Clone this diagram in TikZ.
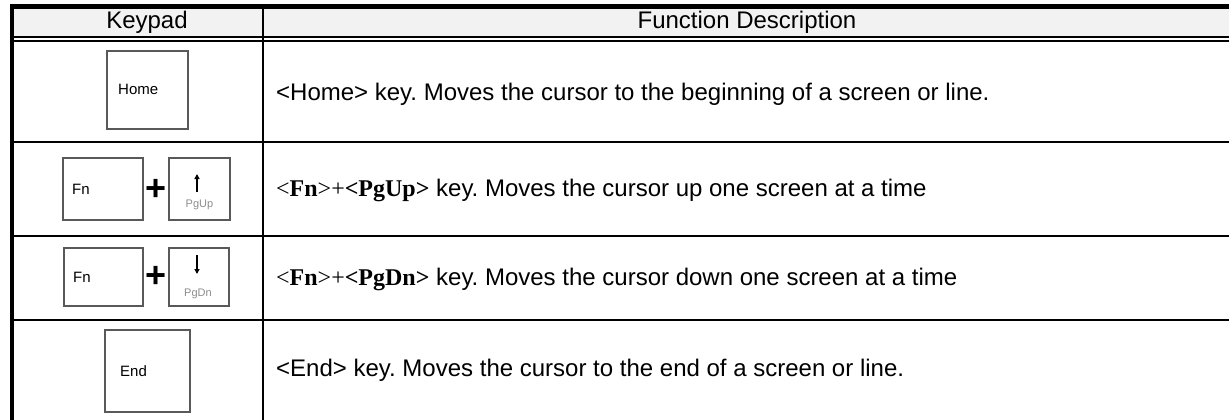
\documentclass[tikz,border=0pt]{standalone}
\usepackage{fontspec}
\setmainfont{Liberation Sans}
\newfontfamily\timesfont{Liberation Serif}
\usetikzlibrary{arrows.meta}
\frenchspacing

\begin{document}
\begin{tikzpicture}[x=1pt, y=-1pt,
        keybox/.style={draw=black!65, line width=1.1pt, inner sep=0pt},
        keylabel/.style={anchor=base west, inner sep=0pt, font=\fontsize{15}{18}\selectfont},
        pglabel/.style={anchor=base, inner sep=0pt, text=black!45, font=\fontsize{11}{13}\selectfont},
        desc/.style={anchor=base west, inner sep=0pt, font=\fontsize{24}{28}\selectfont},
        headtext/.style={anchor=base, inner sep=0pt, font=\fontsize{24}{28}\selectfont},
        plussign/.style={inner sep=0pt, font=\fontsize{36}{40}\selectfont\bfseries},
        keyarrow/.style={line width=1.4pt, -{Triangle[width=5pt, length=5pt]}},
        rowrule/.style={line width=2.4pt}]

        \useasboundingbox (0,0) rectangle (1229,420);
        \clip (0,0) rectangle (1229,420);

        % table
        \fill[black!5] (12,6.5) rectangle (1234,36.7);
        \draw[line width=4.5pt] (12,6.5) rectangle (1234,425);
        \draw[line width=2pt] (12,36.7) -- (1234,36.7);
        \draw[line width=2pt] (12,40.7) -- (1234,40.7);
        \draw[rowrule] (263,6.5) -- (263,425);
        \draw[rowrule] (12,142) -- (1234,142);
        \draw[rowrule] (12,236) -- (1234,236);
        \draw[rowrule] (12,320) -- (1234,320);

        \node[headtext] (keypadhead) at (147,29) {Keypad};
        \node[headtext] (funchead) at (747,29) {Function Description};

        % keys
        \node[keybox, minimum width=81pt, minimum height=78pt] (homekey) at (147.5,90) {};
        \node[keylabel] (homelabel) at (118,95) {Home};

        \node[keybox, minimum width=80pt, minimum height=62pt] (fnupkey) at (103,189) {};
        \node[keylabel] (fnuplabel) at (72,194) {Fn};
        \node[plussign] (plusup) at (156,189.5) {+};
        \node[keybox, minimum width=61pt, minimum height=62pt] (pgupkey) at (199.5,189) {};
        \node[pglabel] (pguplabel) at (199.5,207) {PgUp};
        \coordinate (uptail) at (197,192);
        \coordinate (uphead) at (197,174);
        \draw[keyarrow] (uptail) -- (uphead);

        \node[keybox, minimum width=79pt, minimum height=58pt] (fndnkey) at (103.5,277) {};
        \node[keylabel] (fndnlabel) at (73,282) {Fn};
        \node[plussign] (plusdn) at (156,277) {+};
        \node[keybox, minimum width=60pt, minimum height=58pt] (pgdnkey) at (199,277) {};
        \node[pglabel] (pgdnlabel) at (198,296) {PgDn};
        \coordinate (dntail) at (197,255);
        \coordinate (dnhead) at (197,274);
        \draw[keyarrow] (dntail) -- (dnhead);

        \node[keybox, minimum width=85pt, minimum height=82pt] (endkey) at (147.5,371) {};
        \node[keylabel] (endlabel) at (120,376) {End};

        % descriptions
        \node[desc] (homedesc) at (276,100) {<Home> key. Moves the cursor to the beginning of a screen or line.};
        \node[desc] (pgupdesc) at (276,196.7) {{\timesfont <\textbf{Fn}>+\textbf{<PgUp>}} key. Moves the cursor up one screen at a time};
        \node[desc] (pgdndesc) at (276,285.7) {{\timesfont <\textbf{Fn}>+\textbf{<PgDn>}} key. Moves the cursor down one screen at a time};
        \node[desc] (enddesc) at (276,376.7) {<End> key. Moves the cursor to the end of a screen or line.};

    \end{tikzpicture}
\end{document}
